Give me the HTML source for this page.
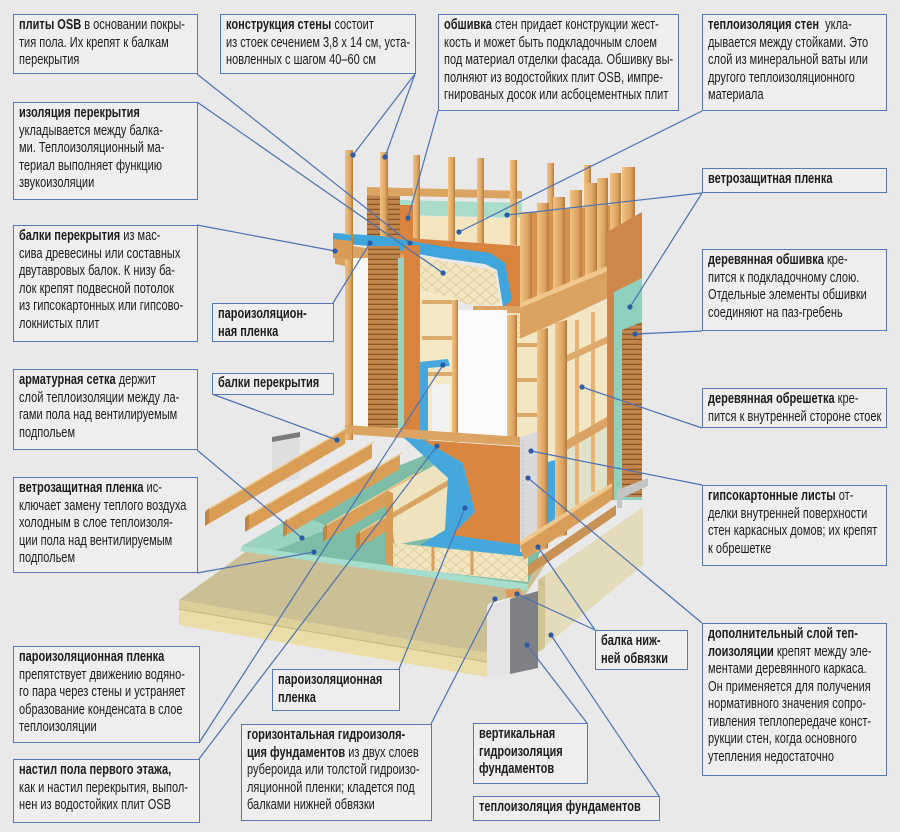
<!DOCTYPE html>
<html><head><meta charset="utf-8">
<style>
html,body{margin:0;padding:0;background:#e9e9e9;}
#w{position:relative;width:900px;height:832px;overflow:hidden;background:#e9e9e9;}
svg{position:absolute;left:0;top:0;}
.b{position:absolute;box-sizing:border-box;border:1.5px solid #5579b6;background:#eeeeee;padding:2px 0 0 5px;font:14.5px/17.5px "Liberation Sans",Arial,sans-serif;color:#1c1c1c;}
.b div{white-space:nowrap;transform:scaleX(.76);transform-origin:0 0;}
.b b{font-weight:bold;}
</style></head><body><div id="w">
<svg width="900" height="832" viewBox="0 0 900 832">
<defs>
<linearGradient id="pg" x1="0" x2="1" y1="0" y2="0"><stop offset="0" stop-color="#f0c283"/><stop offset=".65" stop-color="#dca461"/><stop offset="1" stop-color="#b47a3c"/></linearGradient>
<pattern id="sid" width="6" height="5" patternUnits="userSpaceOnUse"><rect width="6" height="5" fill="#c2854c"/><rect y="3.8" width="6" height="1.2" fill="#8a5426"/></pattern>
<pattern id="ins" width="12" height="10" patternUnits="userSpaceOnUse"><rect width="12" height="10" fill="#f2e6c2"/><path d="M0 5 L6 0 L12 5 L6 10 Z" fill="none" stroke="#d8c592" stroke-width=".7"/></pattern>
</defs>

<!-- slab -->
<polygon points="179,600 262,540 545,565 487,653" fill="#cbbf95"/>
<polygon points="179,600 487,653 487,662 179,609" fill="#dccf99"/>
<polygon points="179,609 487,662 487,677 179,625" fill="#eadda7"/>
<polyline points="179,609 487,662" stroke="#c7b87e" stroke-width="1" fill="none"/>

<!-- membrane -->
<polygon points="242,546 340,490 430,453 480,458 560,500 528,584" fill="#7dbda8"/>
<polygon points="242,546 300,513 330,528 272,552" fill="#9bd3c1"/>
<polygon points="242,546 528,584 528,591 240,551" fill="#a6dece"/>

<!-- left pillar -->
<polygon points="272,441 300,436 300,478 272,485" fill="#dedede"/>
<polygon points="272,437 300,432 300,437 272,442" fill="#7b7b7b"/>

<!-- back upper wall -->
<polygon points="367,195 400,196 400,246 367,246" fill="url(#sid)"/>
<polygon points="400,200 522,203 522,218 400,215" fill="#a9dccb"/>
<polygon points="420,216 522,219 522,246 420,244" fill="#f2e5c0"/>
<polygon points="400,205 420,205 420,430 400,430" fill="#d8843f"/>
<polygon points="367,187 522,191 522,199 367,195" fill="#dca462"/>

<!-- back posts -->
<rect x="380" y="152" width="8" height="95" fill="url(#pg)"/>
<rect x="413" y="155" width="7" height="90" fill="url(#pg)"/>
<rect x="448" y="157" width="7" height="88" fill="url(#pg)"/>
<rect x="477" y="158" width="7" height="87" fill="url(#pg)"/>
<rect x="510" y="160" width="7" height="85" fill="url(#pg)"/>
<rect x="547" y="163" width="7" height="60" fill="url(#pg)"/>
<rect x="584" y="165" width="7" height="55" fill="url(#pg)"/>

<!-- ceiling -->
<polygon points="380,236 522,246 522,315 505,310 497,268 447,252 400,245" fill="#d8843f"/>
<polygon points="335,243 420,257 420,282 335,264" fill="#dba262"/>
<line x1="350" y1="246" x2="350" y2="266" stroke="#b57b3d" stroke-width="2"/>
<line x1="372" y1="250" x2="372" y2="270" stroke="#b57b3d" stroke-width="2"/>
<line x1="396" y1="254" x2="396" y2="275" stroke="#b57b3d" stroke-width="2"/>
<polygon points="420,257 495,270 500,305 470,305 430,292 420,290" fill="url(#ins)"/>
<polygon points="335,233 380,236 440,246 490,253 505,263 512,300 503,307 497,270 485,264 440,258 380,247 335,243" fill="#3fa6dc"/>
<polygon points="473,306 530,306 530,313 473,313" fill="#dca462"/>
<polygon points="473,313 530,313 530,340 473,340" fill="url(#ins)"/>

<!-- left lower wall -->
<polygon points="353,258 368,258 368,428 353,428" fill="#f7f7f5"/>
<polygon points="368,246 400,246 400,428 368,428" fill="url(#sid)"/>
<polygon points="398,258 404,258 404,428 398,428" fill="#9ad3c1"/>
<polygon points="404,245 420,245 420,430 404,430" fill="#d8843f"/>
<rect x="345" y="150" width="8" height="290" fill="url(#pg)"/>
<polygon points="333,238 352,240 352,260 333,258" fill="#d89c58"/>
<polygon points="333,233 352,235 352,241 333,239" fill="#3fa6dc"/>
<polygon points="420,290 455,298 455,440 420,440" fill="#f4e8c6"/>
<rect x="422" y="300" width="32" height="4" fill="#dcab6a"/>
<rect x="422" y="336" width="32" height="4" fill="#dcab6a"/>
<rect x="422" y="372" width="32" height="4" fill="#dcab6a"/>
<rect x="452" y="300" width="6" height="142" fill="url(#pg)"/>
<rect x="458" y="310" width="49" height="130" fill="#fbfbfb"/>
<rect x="507" y="315" width="10" height="130" fill="url(#pg)"/>
<polygon points="420,362 448,359 450,366 428,368 428,445 420,445" fill="#45a7db"/>
<polygon points="432,385 450,383 450,440 432,442" fill="#f2f2f2"/>

<!-- right upper -->
<polygon points="520,213 612,205 612,266 520,304" fill="#d9914e"/>
<rect x="520" y="212" width="12" height="93" fill="url(#pg)"/>
<rect x="537" y="203" width="12" height="95" fill="url(#pg)"/>
<rect x="553" y="197" width="12" height="95" fill="url(#pg)"/>
<rect x="570" y="190" width="12" height="94" fill="url(#pg)"/>
<rect x="585" y="183" width="12" height="95" fill="url(#pg)"/>
<rect x="597" y="178" width="11" height="95" fill="url(#pg)"/>
<rect x="610" y="173" width="11" height="100" fill="url(#pg)"/>
<rect x="622" y="167" width="13" height="60" fill="url(#pg)"/>
<polygon points="520,303 610,265 610,270 520,308" fill="#f0c78c"/>
<polygon points="520,308 610,270 610,297 520,340" fill="#dba260"/>

<!-- right lower wall -->
<polygon points="517,340 612,298 612,488 525,548 517,548" fill="#f2e6c4"/>
<polygon points="567,445 607,425 607,487 567,512" fill="#e0e3ca"/>
<rect x="575" y="320" width="4" height="185" fill="#e4b575"/>
<rect x="591" y="312" width="4" height="180" fill="#e4b575"/>
<rect x="517" y="343" width="22" height="4" fill="#dcab6a"/>
<rect x="517" y="378" width="22" height="4" fill="#dcab6a"/>
<rect x="517" y="413" width="22" height="4" fill="#dcab6a"/>
<polygon points="567,355 610,335 610,342 567,362" fill="#dcab6a"/>
<polygon points="567,440 610,415 610,425 567,450" fill="#dba464"/>

<!-- right siding column -->
<polygon points="607,232 642,212 642,500 607,500" fill="#cf864a"/>
<polygon points="614,292 642,278 642,500 614,500" fill="#8fd1bf"/>
<polygon points="622,330 642,322 642,497 622,497" fill="url(#sid)"/>
<polygon points="617,490 648,478 648,486 622,498 622,508 617,508" fill="#c4c6c6"/>

<!-- bottom plate left -->
<polygon points="345,425 520,437 520,446 345,434" fill="#dca462"/>

<!-- planks -->
<g>
<polygon points="205,512 345,430 349,426 209,508" fill="#f1cd92"/>
<polygon points="205,512 345,430 345,444 205,526" fill="#d99d56"/>
<polygon points="205,512 209,508 209,522 205,526" fill="#c2853f"/>
<polygon points="245,518 372,444 376,440 249,514" fill="#f1cd92"/>
<polygon points="245,518 372,444 372,458 245,532" fill="#d99d56"/>
<polygon points="245,518 249,514 249,528 245,532" fill="#c2853f"/>
<polygon points="283,523 400,455 404,451 287,519" fill="#f1cd92"/>
<polygon points="283,523 400,455 400,469 283,537" fill="#d99d56"/>
<polygon points="283,523 287,519 287,533 283,537" fill="#c2853f"/>
<polygon points="323,528 420,472 424,468 327,524" fill="#f1cd92"/>
<polygon points="323,528 420,472 420,486 323,542" fill="#d99d56"/>
<polygon points="323,528 327,524 327,538 323,542" fill="#c2853f"/>
<polygon points="356,535 392,514 396,510 360,531" fill="#f1cd92"/>
<polygon points="356,535 392,514 392,528 356,549" fill="#d99d56"/>
<polygon points="356,535 360,531 360,545 356,549" fill="#c2853f"/>
</g>

<!-- floor insulation -->
<polygon points="386,492 440,462 470,462 455,533 395,545" fill="#efe3bf"/>
<polygon points="388,515 448,480 448,486 388,521" fill="#dca462"/>
<polygon points="393,543 528,557 528,582 393,567" fill="url(#ins)"/>
<line x1="433" y1="547" x2="433" y2="571" stroke="#d6a060" stroke-width="3"/>
<line x1="472" y1="551" x2="472" y2="575" stroke="#d6a060" stroke-width="3"/>
<polygon points="386,490 393,493 393,567 386,563" fill="#d69c58"/>

<!-- blue film & orange floor -->
<polygon points="403,437 423,440 463,463 475,512 452,535 522,545 528,557 420,545 445,530 448,478" fill="#45a8dc"/>
<polygon points="423,440 522,447 522,545 452,535 475,512 463,463" fill="#d98641"/>

<!-- right lower posts & plasterboard -->
<polygon points="520,437 537,432 537,552 520,552" fill="#dadada"/>
<line x1="523" y1="440" x2="523" y2="550" stroke="#bdbdbd" stroke-width="1" stroke-dasharray="2,2"/>
<polygon points="537,330 548,328 548,548 537,552" fill="url(#pg)"/>
<polygon points="548,462 555,460 555,522 548,526" fill="#45a7db"/>
<polygon points="555,323 567,320 567,535 555,538" fill="url(#pg)"/>

<!-- rim beams -->
<polygon points="520,541 612,483 612,487 520,546" fill="#f0c78c"/>
<polygon points="520,546 612,487 612,500 524,560" fill="#d99d5a"/>
<polygon points="528,565 616,505 616,515 528,576" fill="#c99255"/>

<!-- foundation -->
<polygon points="538,580 643,507 643,565 538,652" fill="#e3dbb9"/>
<polygon points="538,580 545,576 545,648 538,652" fill="#d2c595"/>
<polygon points="487,606 510,599 510,674 487,678" fill="#e4e4e4"/>
<polygon points="487,606 510,599 513,597 490,603" fill="#f2f2f2"/>
<polygon points="510,599 538,591 538,668 510,674" fill="#7f8083"/>
<polygon points="505,590 520,588 522,596 507,598" fill="#e09a5a"/>

<!-- leader lines -->
<g stroke="#4a72b6" stroke-width="1.2" fill="none">
<line x1="197" y1="74" x2="410" y2="243"/>
<line x1="197" y1="102" x2="443" y2="273"/>
<line x1="415" y1="74" x2="353" y2="155"/>
<line x1="415" y1="74" x2="385" y2="157"/>
<line x1="438" y1="111" x2="408" y2="218"/>
<line x1="702" y1="111" x2="459" y2="232"/>
<line x1="702" y1="193" x2="507" y2="215"/>
<line x1="702" y1="193" x2="630" y2="307"/>
<line x1="702" y1="331" x2="635" y2="334"/>
<line x1="702" y1="428" x2="582" y2="387"/>
<line x1="702" y1="485" x2="531" y2="451"/>
<line x1="702" y1="623" x2="528" y2="478"/>
<line x1="197" y1="225" x2="335" y2="251"/>
<line x1="333" y1="303" x2="370" y2="243"/>
<line x1="212" y1="394" x2="337" y2="440"/>
<line x1="197" y1="450" x2="302" y2="538"/>
<line x1="197" y1="573" x2="314" y2="552"/>
<line x1="199" y1="743" x2="443" y2="365"/>
<line x1="199" y1="759" x2="437" y2="446"/>
<line x1="399" y1="669" x2="465" y2="508"/>
<line x1="431" y1="724" x2="495" y2="599"/>
<line x1="595" y1="630" x2="538" y2="547"/>
<line x1="595" y1="630" x2="517" y2="594"/>
<line x1="587" y1="723" x2="527" y2="645"/>
<line x1="659" y1="796" x2="551" y2="635"/>
</g>
<g fill="#2d5ca6">
<circle cx="410" cy="243" r="2.6"/><circle cx="443" cy="273" r="2.6"/><circle cx="353" cy="155" r="2.6"/><circle cx="385" cy="157" r="2.6"/>
<circle cx="408" cy="218" r="2.6"/><circle cx="459" cy="232" r="2.6"/><circle cx="507" cy="215" r="2.6"/><circle cx="630" cy="307" r="2.6"/>
<circle cx="635" cy="334" r="2.6"/><circle cx="582" cy="387" r="2.6"/><circle cx="531" cy="451" r="2.6"/><circle cx="528" cy="478" r="2.6"/>
<circle cx="335" cy="251" r="2.6"/><circle cx="370" cy="243" r="2.6"/><circle cx="337" cy="440" r="2.6"/><circle cx="302" cy="538" r="2.6"/>
<circle cx="314" cy="552" r="2.6"/><circle cx="443" cy="365" r="2.6"/><circle cx="437" cy="446" r="2.6"/><circle cx="465" cy="508" r="2.6"/>
<circle cx="495" cy="599" r="2.6"/><circle cx="538" cy="547" r="2.6"/><circle cx="517" cy="594" r="2.6"/><circle cx="527" cy="645" r="2.6"/>
<circle cx="551" cy="635" r="2.6"/>
</g>
</svg>

<div class="b" style="left:13px;top:14px;width:185px;height:60px"><div><b>плиты OSB</b> в основании покры-</div><div>тия пола. Их крепят к балкам</div><div>перекрытия</div></div>
<div class="b" style="left:220px;top:14px;width:196px;height:60px"><div><b>конструкция стены</b> состоит</div><div>из стоек сечением 3,8 х 14 см, уста-</div><div>новленных с шагом 40–60 см</div></div>
<div class="b" style="left:438px;top:14px;width:241px;height:97px"><div><b>обшивка</b> стен придает конструкции жест-</div><div>кость и может быть подкладочным слоем</div><div>под материал отделки фасада. Обшивку вы-</div><div>полняют из водостойких плит OSB, импре-</div><div>гнированых досок или асбоцементных плит</div></div>
<div class="b" style="left:702px;top:14px;width:185px;height:97px"><div><b>теплоизоляция стен</b>&nbsp; укла-</div><div>дывается между стойками. Это</div><div>слой из минеральной ваты или</div><div>другого теплоизоляционного</div><div>материала</div></div>
<div class="b" style="left:13px;top:102px;width:185px;height:98px"><div><b>изоляция перекрытия</b></div><div>укладывается между балка-</div><div>ми. Теплоизоляционный ма-</div><div>териал выполняет функцию</div><div>звукоизоляции</div></div>
<div class="b" style="left:702px;top:168px;width:185px;height:25px"><div><b>ветрозащитная пленка</b></div></div>
<div class="b" style="left:13px;top:225px;width:185px;height:117px"><div><b>балки перекрытия</b> из мас-</div><div>сива древесины или составных</div><div>двутавровых балок. К низу ба-</div><div>лок крепят подвесной потолок</div><div>из гипсокартонных или гипсово-</div><div>локнистых плит</div></div>
<div class="b" style="left:212px;top:303px;width:122px;height:39px"><div><b>пароизоляцион-</b></div><div><b>ная пленка</b></div></div>
<div class="b" style="left:212px;top:373px;width:122px;height:22px;padding-top:1px"><div><b>балки перекрытия</b></div></div>
<div class="b" style="left:13px;top:369px;width:185px;height:81px"><div><b>арматурная сетка</b> держит</div><div>слой теплоизоляции между ла-</div><div>гами пола над вентилируемым</div><div>подпольем</div></div>
<div class="b" style="left:13px;top:477px;width:185px;height:96px"><div><b>ветрозащитная пленка</b> ис-</div><div>ключает замену теплого воздуха</div><div>холодным в слое теплоизоля-</div><div>ции пола над вентилируемым</div><div>подпольем</div></div>
<div class="b" style="left:702px;top:249px;width:185px;height:82px"><div><b>деревянная обшивка</b> кре-</div><div>пится к подкладочному слою.</div><div>Отдельные элементы обшивки</div><div>соединяют на паз-гребень</div></div>
<div class="b" style="left:702px;top:388px;width:185px;height:40px"><div><b>деревянная обрешетка</b> кре-</div><div>пится к внутренней стороне стоек</div></div>
<div class="b" style="left:702px;top:485px;width:185px;height:81px"><div><b>гипсокартонные листы</b> от-</div><div>делки внутренней поверхности</div><div>стен каркасных домов; их крепят</div><div>к обрешетке</div></div>
<div class="b" style="left:13px;top:646px;width:187px;height:97px"><div><b>пароизоляционная пленка</b></div><div>препятствует движению водяно-</div><div>го пара через стены и устраняет</div><div>образование конденсата в слое</div><div>теплоизоляции</div></div>
<div class="b" style="left:13px;top:759px;width:187px;height:64px"><div><b>настил пола первого этажа,</b></div><div>как и настил перекрытия, выпол-</div><div>нен из водостойких плит OSB</div></div>
<div class="b" style="left:272px;top:669px;width:128px;height:42px"><div><b>пароизоляционная</b></div><div><b>пленка</b></div></div>
<div class="b" style="left:241px;top:724px;width:191px;height:97px"><div><b>горизонтальная гидроизоля-</b></div><div><b>ция фундаментов</b> из двух слоев</div><div>рубероида или толстой гидроизо-</div><div>ляционной пленки; кладется под</div><div>балками нижней обвязки</div></div>
<div class="b" style="left:595px;top:630px;width:93px;height:40px"><div><b>балка ниж-</b></div><div><b>ней обвязки</b></div></div>
<div class="b" style="left:702px;top:623px;width:185px;height:153px"><div><b>дополнительный слой теп-</b></div><div><b>лоизоляции</b> крепят между эле-</div><div>ментами деревянного каркаса.</div><div>Он применяется для получения</div><div>нормативного значения сопро-</div><div>тивления теплопередаче конст-</div><div>рукции стен, когда основного</div><div>утепления недостаточно</div></div>
<div class="b" style="left:473px;top:723px;width:115px;height:61px"><div><b>вертикальная</b></div><div><b>гидроизоляция</b></div><div><b>фундаментов</b></div></div>
<div class="b" style="left:473px;top:796px;width:187px;height:25px"><div><b>теплоизоляция фундаментов</b></div></div>
</div></body></html>
